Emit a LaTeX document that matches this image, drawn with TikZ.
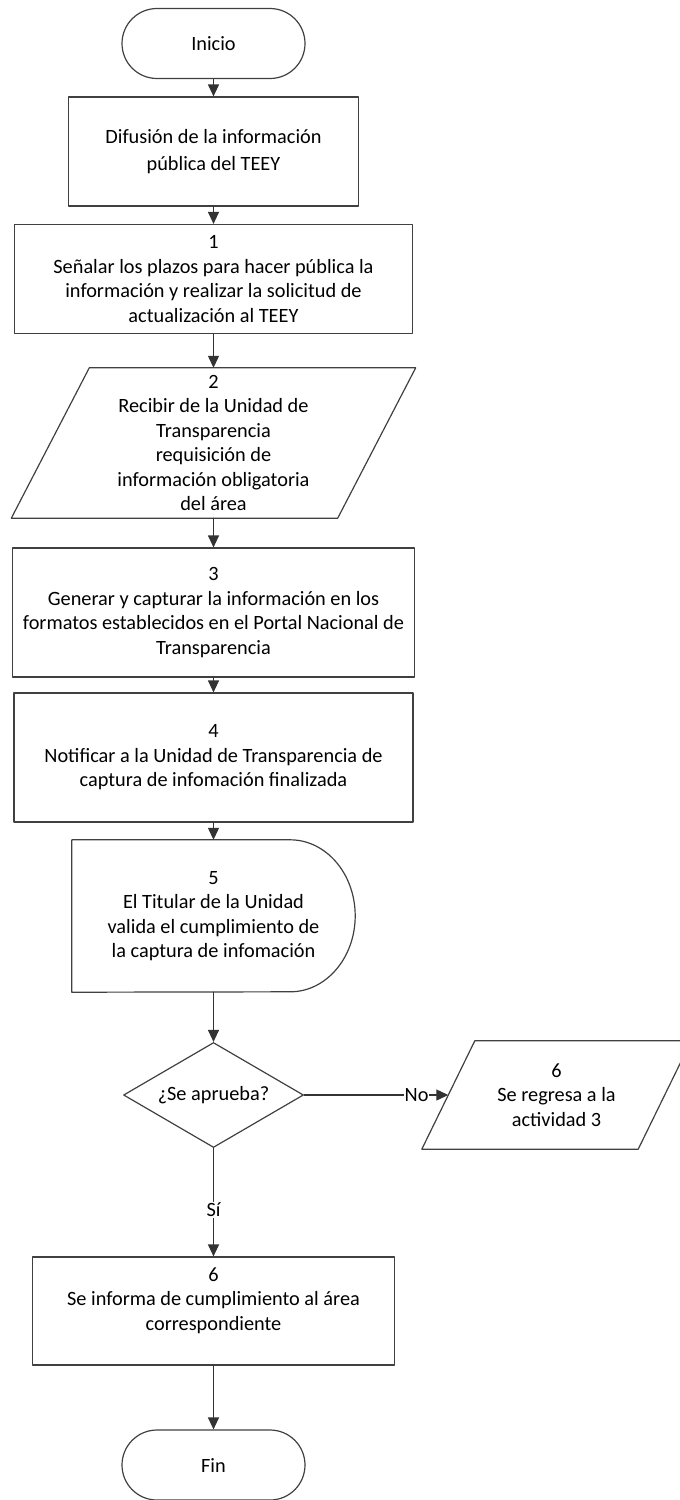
\documentclass[tikz,border=0pt]{standalone}
\usepackage{fontspec}
\setmainfont{Carlito}
\usetikzlibrary{arrows.meta,shapes.geometric}

\begin{document}
\begin{tikzpicture}[x=1pt, y=-1pt,
                    line cap=round, line join=round,
                    font=\fontsize{20.3}{24.5}\selectfont,
                    linea/.style={draw=black!75, line width=1.2pt},
                    flecha/.style={black!80, line width=1.2pt,
                                   >={Triangle[width=11pt,length=12pt]}, ->},
                    proceso/.style={linea, rectangle, align=center, inner sep=2pt},
                    terminal/.style={linea, rectangle, rounded corners=35pt,
                                     minimum width=183pt, minimum height=70pt},
                    forma/.style={align=center, inner sep=0pt},
                    rombo/.style={linea, diamond, aspect=1.7, inner sep=1pt,
                                  minimum width=180pt, minimum height=105pt},
                    etiqueta/.style={fill=white, text=black, inner sep=1pt}]
  \useasboundingbox (0,0) rectangle (680,1500);
  \def\cx{213.5}

  % main column
  \node[terminal] (inicio) at (\cx,43.5) {Inicio};
  \node[proceso, minimum width=290pt, minimum height=109pt] (difusion) at (\cx,151.5)
    {Difusión de la información\\[3pt]pública del TEEY};
  \node[proceso, minimum width=398pt, minimum height=109pt] (paso1) at (\cx,279)
    {1\\Señalar los plazos para hacer pública la\\información y realizar la solicitud de\\actualización al TEEY};

  \node[forma, minimum width=326pt, minimum height=150pt] (paso2) at (\cx,443)
    {2\\Recibir de la Unidad de\\Transparencia\\requisición de\\información obligatoria\\del área};
  \draw[linea] ([xshift=-39pt]paso2.south west) -- ([xshift=39pt]paso2.north west)
    -- ([xshift=39pt]paso2.north east) -- ([xshift=-39pt]paso2.south east) -- cycle;

  \node[proceso, minimum width=402pt, minimum height=129pt] (paso3) at (\cx,612.5)
    {3\\Generar y capturar la información en los\\formatos establecidos en el Portal Nacional de\\Transparencia};
  \node[proceso, minimum width=399pt, minimum height=129pt] (paso4) at (\cx,757.5)
    {4\\Notificar a la Unidad de Transparencia de\\captura de infomación finalizada};

  \node[forma, minimum width=283pt, minimum height=152pt] (paso5) at (\cx,916)
    {5\\El Titular de la Unidad\\valida el cumplimiento de\\la captura de infomación};
  \draw[linea] (paso5.south west) -- (paso5.north west) -- ([xshift=-65pt]paso5.north east)
    arc[start angle=90, end angle=-90, x radius=65pt, y radius=76pt] -- cycle;

  \node[rombo] (aprueba) at (\cx,1095) {¿Se aprueba?};

  % branch
  \node[forma, minimum width=216pt, minimum height=108pt] (regreso) at (556.5,1095)
    {6\\Se regresa a la\\actividad 3};
  \draw[linea] ([xshift=-26.5pt]regreso.south west) -- ([xshift=26.5pt]regreso.north west)
    -- ([xshift=26.5pt]regreso.north east) -- ([xshift=-26.5pt]regreso.south east) -- cycle;

  \node[proceso, minimum width=362pt, minimum height=108pt] (paso6) at (\cx,1311)
    {6\\Se informa de cumplimiento al área\\correspondiente\\\mbox{}};
  \node[terminal] (fin) at (\cx,1465) {Fin};

  % connectors
  \foreach \a/\b in {inicio/difusion, difusion/paso1, paso1/paso2, paso2/paso3,
                     paso3/paso4, paso4/paso5, paso5/aprueba, paso6/fin}
    \draw[flecha] (\a) -- (\b);
  \draw[flecha] (aprueba) -- node[etiqueta, pos=0.78] (no) {No} (regreso);
  \draw[flecha] (aprueba) -- node[etiqueta, pos=0.57] (si) {Sí} (paso6);

\end{tikzpicture}
\end{document}
